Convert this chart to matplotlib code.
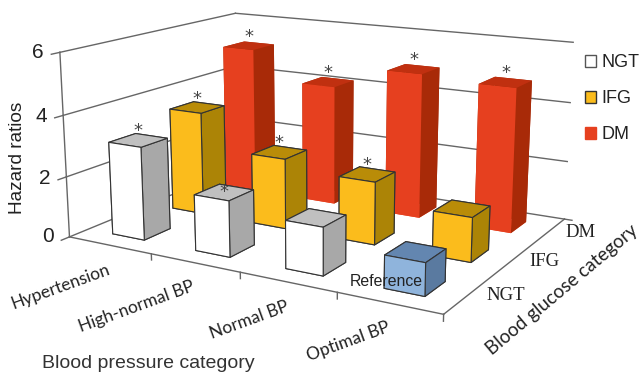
import matplotlib
matplotlib.use("Agg")
import matplotlib.pyplot as plt
from matplotlib.patches import Patch
from mpl_toolkits.mplot3d import proj3d

bp_categories = ["Hypertension", "High-normal BP", "Normal BP", "Optimal BP"]
glucose_categories = ["NGT", "IFG", "DM"]
ngt_values = [3.05, 1.8, 1.5, 1.0]
ifg_values = [3.5, 2.35, 2.05, 1.42]
dm_values = [5.15, 4.15, 4.92, 4.8]
# which bars carry a significance star
ngt_star = [True, True, False, False]
ifg_star = [True, True, True, False]
dm_star = [True, True, True, True]

W, H = 644, 375
BAR_X = 0.39
BAR_Y = 0.42
LINE = "#666666"

# face order of bar3d: bottom, top, -y, +y, -x, +x
FACES = {
    "NGT": ["#ffffff", "#c0c0c0", "#ffffff", "#a8a8a8", "#a8a8a8", "#a8a8a8"],
    "IFG": ["#fbbc1c", "#b98c08", "#fbbc1c", "#ac8406", "#ac8406", "#ac8406"],
    "DM": ["#e6401f", "#c03010", "#e6401f", "#a82a08", "#a82a08", "#a82a08"],
    "REF": ["#8fb4dc", "#6386b0", "#8fb4dc", "#5a7aa0", "#5a7aa0", "#5a7aa0"],
}


def px_text(fig, x, y, s, **kw):
    # place text using reference pixel coordinates
    return fig.text(x / W, 1 - y / H, s, **kw)


def draw_frame(ax):
    nx, ny = len(bp_categories), len(glucose_categories)
    for z in [0, 2, 4, 6]:
        ax.plot([0, 0], [0, ny], [z, z], color=LINE, lw=1, zorder=1)
        ax.plot([0, nx], [ny, ny], [z, z], color=LINE, lw=1, zorder=1)
        ax.plot([0, 0], [-0.12, 0], [z, z], color=LINE, lw=1, zorder=1)
    ax.plot([0, 0], [0, 0], [0, 6], color=LINE, lw=1, zorder=1)
    ax.plot([0, nx], [0, 0], [0, 0], color=LINE, lw=1, zorder=1)
    ax.plot([nx, nx], [0, ny], [0, 0], color=LINE, lw=1, zorder=1)
    for i in range(1, nx + 1):
        ax.plot([i, i], [0, 0], [0, -0.2], color=LINE, lw=1, zorder=1)
    ax.plot([nx, nx + 0.08], [ny, ny], [0, 0], color=LINE, lw=1, zorder=1)


def draw_bars(ax):
    rows = [
        ("DM", dm_values, dm_star, 2),
        ("IFG", ifg_values, ifg_star, 1),
        ("NGT", ngt_values, ngt_star, 0),
    ]
    M = ax.get_proj()
    # back row first, left to right, since zorder is set by hand
    order = 2
    for name, values, stars, j in rows:
        for i, v in enumerate(values):
            key = "REF" if name == "NGT" and i == len(values) - 1 else name
            x0 = i + (1 - BAR_X) / 2
            y0 = j + (1 - BAR_Y) / 2
            edge = None if name == "DM" else "#333333"
            ax.bar3d(x0, y0, 0, BAR_X, BAR_Y, v, color=FACES[key], shade=False,
                     edgecolor=edge, linewidth=0.8, zorder=order)
            order += 1
            if stars[i]:
                lift = 0.0 if (name == "NGT" and i == 1) else 0.3
                xp, yp, _ = proj3d.proj_transform(x0 + BAR_X / 2, y0 + BAR_Y / 2, v + lift, M)
                ax.text2D(xp, yp, "*", transform=ax.transData, color="#444444", fontsize=13,
                          ha="center", va="center", zorder=100)


fig = plt.figure(figsize=(W / 100, H / 100), dpi=100)
# axes is oversized because a 3d axes stays square; camera values fitted to the frame corners
ax = fig.add_axes([-0.5 - 9.65 / W, -0.5 + 38.23 / H, 2, 2], projection="3d")
ax.computed_zorder = False
ax.set_xlim(0, len(bp_categories), view_margin=0)
ax.set_ylim(0, len(glucose_categories), view_margin=0)
ax.set_zlim(0, 6, view_margin=0)
ax.view_init(elev=13.9961, azim=-60.0674)
ax.set_proj_type("persp", focal_length=0.3057)
ax.set_box_aspect((1, 0.7405, 0.4566), zoom=0.6991)
ax.set_axis_off()

draw_frame(ax)
draw_bars(ax)

for z, x, y in [(0, 48, 237), (2, 45, 178), (4, 41, 116), (6, 38, 52)]:
    px_text(fig, x, y, str(z), fontsize=15, family="Liberation Sans", ha="center", va="center", color="#222222")
px_text(fig, 18, 158, "Hazard ratios", fontsize=13.7, family="Liberation Sans", rotation=90, ha="center", va="center", color="#222222")

for s, (x, y) in zip(bp_categories, [(61, 287), (137, 307), (249, 320), (348, 342)]):
    px_text(fig, x, y, s, fontsize=12.5, family="Lato", rotation=20, ha="center", va="center", color="#222222")
px_text(fig, 148, 363, "Blood pressure category", fontsize=14, family="Liberation Sans", ha="center", va="center", color="#333333")

for s, (x, y) in zip(glucose_categories, [(506, 296), (544, 262), (581, 233)]):
    px_text(fig, x, y, s, fontsize=13.5, family="Liberation Serif", ha="center", va="center", color="#222222")
px_text(fig, 562, 290, "Blood glucose category", fontsize=13.5, family="Lato", rotation=40, ha="center", va="center", color="#222222")
px_text(fig, 386, 281, "Reference", fontsize=11.4, family="Liberation Sans", ha="center", va="center", color="#222222")

handles = [
    Patch(facecolor="#ffffff", edgecolor="#555555", label="NGT"),
    Patch(facecolor="#fbbc1c", edgecolor="#333333", label="IFG"),
    Patch(facecolor="#e6401f", edgecolor="#e6401f", label="DM"),
]
fig.legend(handles=handles, loc="upper left", bbox_to_anchor=(569 / W, 1 - 38 / H), frameon=False,
           prop={"family": "Liberation Sans", "size": 13}, handlelength=0.61, handleheight=0.61,
           handletextpad=0.28, labelspacing=1.05, labelcolor="#222222")

fig.savefig("out.png", dpi=100)
